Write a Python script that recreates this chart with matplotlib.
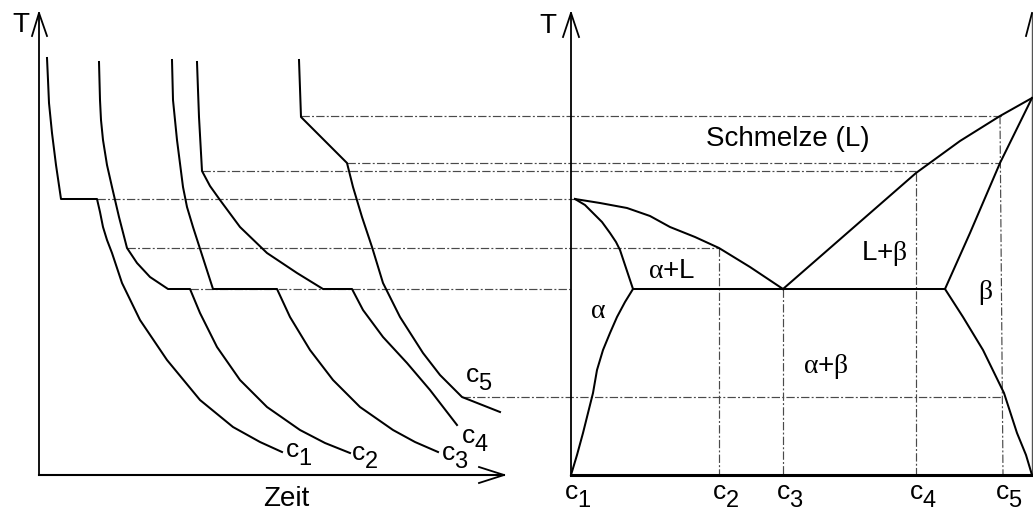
import matplotlib.pyplot as plt
import numpy as np

plt.rcParams['font.family'] = ['Liberation Sans', 'DejaVu Sans']
plt.rcParams['mathtext.fontset'] = 'custom'
plt.rcParams['mathtext.rm'] = 'Liberation Serif'
plt.rcParams['mathtext.it'] = 'Liberation Serif'
plt.rcParams['mathtext.default'] = 'rm'
plt.rcParams['lines.scale_dashes'] = False

# drawing units: x to the right, T grows upwards (y axis is flipped below)
# composition positions c1..c5 on the right-hand axis
comp_names = ['1', '2', '3', '4', '5']
comp_x = [571, 719, 783, 916, 1002]
x_pure_B = 1032

# characteristic temperatures
T_axis = 475        # bottom of both panels
T_melt_A = 199
T_liq2 = 248
T_eut = 289
T_liq4 = 171
T_liq5 = 116
T_sol5 = 163
T_solvus5 = 397
T_melt_B = 98

# cooling curves: time / temperature
cool1_t = [47, 48, 49, 52, 56, 61, 97, 100, 103, 107, 112, 122, 140, 167, 200, 233, 260, 282]
cool1_T = [58, 80, 103, 133, 165, 199, 199, 212, 227, 240, 253, 283, 320, 360, 400, 427, 442, 452]

cool2_t = [99, 100, 101, 103, 107, 112, 119, 127, 137, 150, 168, 190, 200, 217, 240, 267, 300, 325, 350]
cool2_T = [62, 100, 120, 140, 165, 187, 217, 248, 263, 277, 289, 289, 313, 347, 380, 407, 430, 443, 453]

cool3_t = [172, 173, 175, 177, 183, 187, 193, 203, 213, 277, 290, 310, 333, 360, 393, 415, 438]
cool3_T = [60, 100, 120, 140, 187, 207, 227, 258, 289, 289, 317, 350, 380, 407, 430, 442, 452]

cool4_t = [197, 198, 199, 202, 210, 220, 240, 267, 297, 323, 352, 363, 383, 407, 430, 457]
cool4_T = [62, 90, 117, 171, 186, 200, 227, 253, 273, 289, 289, 310, 337, 363, 390, 425]

cool5_t = [299, 301, 347, 353, 362, 372, 383, 400, 423, 440, 462, 500]
cool5_T = [60, 117, 163, 187, 217, 247, 283, 317, 353, 375, 397, 412]

# phase boundaries of the eutectic system
liq_left_x = [575, 600, 627, 650, 670, 695, 719, 750, 783]
liq_left_T = [199, 203, 208, 216, 227, 237, 248, 267, 289]
sol_left_x = [575, 585, 593, 602, 610, 616, 620, 626, 633]
sol_left_T = [199, 205, 213, 222, 233, 242, 250, 268, 289]
solv_left_x = [633, 625, 617, 610, 603, 597, 593, 588, 583, 577, 571]
solv_left_T = [289, 302, 317, 333, 350, 370, 393, 413, 433, 455, 475]
liq_right_x = [783, 916, 960, 1000, 1032]
liq_right_T = [289, 173, 141, 116, 98]
sol_right_x = [1032, 1000, 970, 945]
sol_right_T = [98, 163, 233, 289]
solv_right_x = [945, 963, 983, 1004, 1017, 1026, 1032]
solv_right_T = [289, 317, 350, 393, 433, 455, 475]

fig = plt.figure(figsize=(10.33, 5.12), dpi=100)
ax = fig.add_axes([0, 0, 1, 1])
ax.set_xlim(0, 1033)
ax.set_ylim(512, 0)
ax.axis('off')

K = 'black'
lw = 1.45
dd = dict(color='#4a4a4a', lw=0.85, ls=(0, (6.0, 1.6, 1.4, 1.6)), zorder=1)

# guide lines between cooling curves and phase diagram
ax.plot([cool5_t[1], comp_x[4]], [T_liq5, T_liq5], **dd)
ax.plot([cool5_t[2], comp_x[4] - 2], [T_sol5, T_sol5], **dd)
ax.plot([cool4_t[3], comp_x[3]], [T_liq4, T_liq4], **dd)
ax.plot([cool1_t[6], liq_left_x[0]], [T_melt_A, T_melt_A], **dd)
ax.plot([cool2_t[7], comp_x[1]], [T_liq2, T_liq2], **dd)
ax.plot([cool2_t[11], comp_x[0]], [T_eut, T_eut], **dd)
ax.plot([cool5_t[10], comp_x[4]], [T_solvus5, T_solvus5], **dd)
ax.plot([comp_x[1]] * 2, [T_liq2, T_axis], **dd)
ax.plot([comp_x[2]] * 2, [T_eut, T_axis], **dd)
ax.plot([comp_x[3]] * 2, [T_liq4 + 2, T_axis], **dd)
ax.plot([comp_x[4] - 2, comp_x[4] + 1], [T_liq5, T_axis], **dd)

# cooling curves
for t, T in [(cool1_t, cool1_T), (cool2_t, cool2_T), (cool3_t, cool3_T),
             (cool4_t, cool4_T), (cool5_t, cool5_T)]:
    ax.plot(t, T, color=K, lw=lw, solid_joinstyle='round', zorder=3)

# phase diagram
for bx, bT in [(liq_left_x, liq_left_T), (sol_left_x, sol_left_T),
               (solv_left_x, solv_left_T), (liq_right_x, liq_right_T),
               (sol_right_x, sol_right_T), (solv_right_x, solv_right_T)]:
    ax.plot(bx, bT, color=K, lw=lw, solid_joinstyle='round', zorder=3)
ax.plot([sol_left_x[-1], sol_right_x[-1]], [T_eut, T_eut], color=K, lw=lw, zorder=3)

# axes of the time panel
ax.plot([39, 39], [T_axis, 13], color=K, lw=1.3)
ax.plot([32, 39, 47], [36, 13, 36], color=K, lw=1.3)
ax.plot([39, 504], [T_axis, T_axis], color=K, lw=1.5)
ax.plot([479, 504, 479], [467, T_axis, 483], color=K, lw=1.3)

# axes of the phase diagram
ax.plot([571, 571], [T_axis, 13], color=K, lw=1.3)
ax.plot([563, 571, 579], [37, 13, 37], color=K, lw=1.3)
ax.plot([571, x_pure_B], [T_axis, T_axis], color=K, lw=2.2, zorder=4)
ax.plot([x_pure_B, x_pure_B], [T_axis, 13], color='#555555', lw=1.0)
ax.plot([1026, x_pure_B], [36, 13], color=K, lw=1.3)

fs = 20
ax.text(21, 32, 'T', fontsize=fs, ha='center', va='baseline')
ax.text(548, 33, 'T', fontsize=fs, ha='center', va='baseline')
ax.text(286, 506, 'Zeit', fontsize=fs, ha='center', va='baseline')

# labels in the phase fields
ax.text(788, 146, 'Schmelze (L)', fontsize=fs, ha='center', va='baseline')
ax.text(672, 278, r'$\alpha$+L', fontsize=fs, ha='center', va='baseline')
ax.text(884, 260, r'L+$\beta$', fontsize=fs, ha='center', va='baseline')
ax.text(985, 299, r'$\beta$', fontsize=fs, ha='center', va='baseline')
ax.text(598, 318, r'$\alpha$', fontsize=fs, ha='center', va='baseline')
ax.text(826, 373, r'$\alpha$+$\beta$', fontsize=fs, ha='center', va='baseline')


def c_label(x, y, n):
    ax.text(x, y, 'c', fontsize=19, ha='left', va='baseline')
    ax.text(x + 12.5, y + 8, n, fontsize=17, ha='left', va='baseline')


for (lx, ly), n in zip([(286, 457), (352, 460), (442, 460), (462, 443), (466, 382)], comp_names):
    c_label(lx, ly, n)
for cx, n in zip(comp_x, comp_names):
    c_label(cx - 6, 499, n)

fig.savefig('out.png', dpi=100)
